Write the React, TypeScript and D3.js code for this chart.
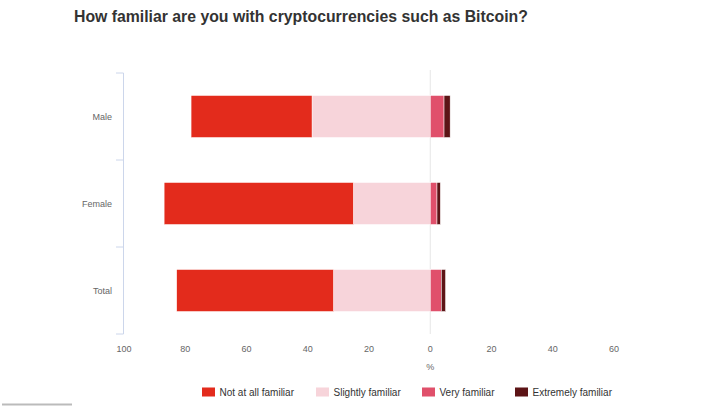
import React from "react";
import * as d3 from "d3";

const categories = ["Male", "Female", "Total"];
const notAtAll = [39.5, 61.8, 51.2];
const slightly = [38.6, 25.1, 31.6];
const very = [4.5, 2.2, 3.6];
const extremely = [2.0, 1.1, 1.4];
const xTicks = [-100, -80, -60, -40, -20, 0, 20, 40, 60];
const seriesNames = ["Not at all familiar", "Slightly familiar", "Very familiar", "Extremely familiar"];
const seriesColors = ["#e32b1c", "#f7d4da", "#e0506b", "#5c1416"];

const W = 701;
const H = 412;

export default function App() {
  const x = d3.scaleLinear().domain([-100, 60]).range([124, 614]);
  const y = d3.scaleBand<string>().domain(categories).range([73, 334]).paddingInner(0.517).paddingOuter(0.2585);
  const font = "'Liberation Sans', Arial, sans-serif";

  const segs: { x0: number; x1: number; cat: string; color: string; key: string }[] = [];
  categories.forEach((c, i) => {
    const s = slightly[i];
    const n = notAtAll[i];
    segs.push({ x0: -s, x1: 0, cat: c, color: seriesColors[1], key: c + "s" });
    segs.push({ x0: -s - n, x1: -s, cat: c, color: seriesColors[0], key: c + "n" });
    const v = very[i];
    const e = extremely[i];
    segs.push({ x0: 0, x1: v, cat: c, color: seriesColors[2], key: c + "v" });
    segs.push({ x0: v, x1: v + e, cat: c, color: seriesColors[3], key: c + "e" });
  });

  const bandTicks = [73, ...categories.map((c) => (y(c) as number) + y.bandwidth() / 2 + y.step() / 2)];
  const legendX = [202, 316, 422, 515];

  return (
    <svg width={W} height={H} style={{ position: "absolute", left: 0, top: 0, fontFamily: font }}>
      <rect width={W} height={H} fill="#fff" />
      <text x={74} y={22} fontSize={15.8} fontWeight="bold" fill="#333">
        How familiar are you with cryptocurrencies such as Bitcoin?
      </text>
      <line x1={x(0)} x2={x(0)} y1={70} y2={334} stroke="#e6e6e6" strokeWidth={1} />
      <line x1={123.5} x2={123.5} y1={73} y2={334} stroke="#ccd6eb" strokeWidth={1} />
      {bandTicks.map((t, i) => (
        <line key={i} x1={116} x2={123.5} y1={t} y2={t} stroke="#ccd6eb" strokeWidth={1} />
      ))}
      {categories.map((c) => (
        <text key={c} x={112} y={(y(c) as number) + y.bandwidth() / 2} dy="0.35em" textAnchor="end" fontSize={9} fill="#666">
          {c}
        </text>
      ))}
      {segs.map((s) => (
        <rect
          key={s.key}
          x={x(s.x0)}
          width={x(s.x1) - x(s.x0)}
          y={y(s.cat)}
          height={y.bandwidth()}
          fill={s.color}
          stroke="#fff"
          strokeWidth={0.5}
        />
      ))}
      {xTicks.map((t) => (
        <text key={t} x={x(t)} y={349} dy="0.35em" textAnchor="middle" fontSize={9} fill="#666">
          {Math.abs(t)}
        </text>
      ))}
      <text x={x(0)} y={367} dy="0.35em" textAnchor="middle" fontSize={9} fill="#666">
        %
      </text>
      {seriesNames.map((n, i) => (
        <g key={n}>
          <rect x={legendX[i]} y={387.5} width={13} height={9} fill={seriesColors[i]} />
          <text x={legendX[i] + 17.5} y={392} dy="0.35em" fontSize={10} fill="#333">
            {n}
          </text>
        </g>
      ))}
      <line x1={2} x2={72} y1={404.5} y2={404.5} stroke="#bbb" strokeWidth={2} />
    </svg>
  );
}
